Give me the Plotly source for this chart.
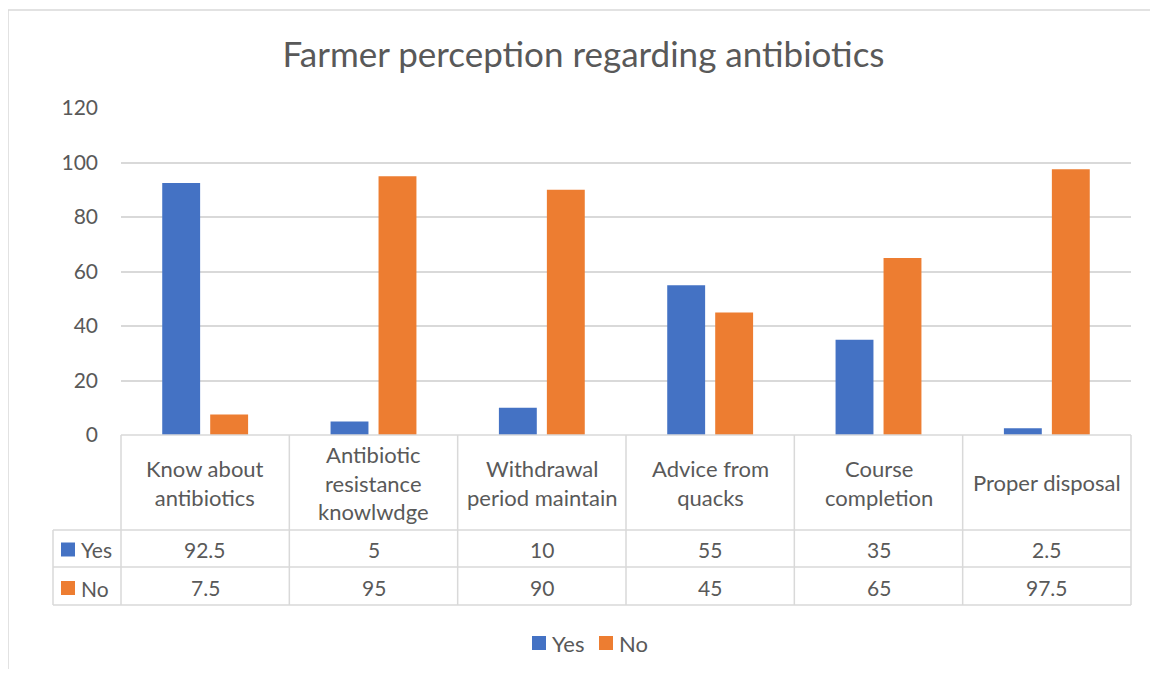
import plotly.graph_objects as go

categories = ["Know about antibiotics", "Antibiotic resistance knowlwdge",
              "Withdrawal period maintain", "Advice from quacks",
              "Course completion", "Proper disposal"]
category_labels = ["Know about<br>antibiotics", "Antibiotic<br>resistance<br>knowlwdge",
                   "Withdrawal<br>period maintain", "Advice from<br>quacks",
                   "Course<br>completion", "Proper disposal"]
series_names = ["Yes", "No"]
yes_values = [92.5, 5, 10, 55, 35, 2.5]
no_values = [7.5, 95, 90, 45, 65, 97.5]
y_ticks = [0, 20, 40, 60, 80, 100, 120]

OFF = 8  # page body margin
W, H = 1158 - 2 * OFF, 677 - 2 * OFF
L, R, T, B = 121 - OFF, 1131 - OFF, 108 - OFF, 435 - OFF
FONT = "Lato"
TXT = "#595959"
GRID = "#d9d9d9"
colors = ["#4472C4", "#ED7D31"]


def px_x(p):
    return (p - OFF - L) / (R - L)


def px_y(p):
    return (B - (p - OFF)) / (B - T)


fig = go.Figure()
for name, vals, col in zip(series_names, [yes_values, no_values], colors):
    fig.add_trace(go.Bar(x=categories, y=vals, name=name, marker_color=col,
                         marker_line_width=0, showlegend=False))

shapes = []
ann = []


def hline(y, x0, x1, w=1.5):
    shapes.append(dict(type="line", xref="paper", yref="paper", x0=px_x(x0), x1=px_x(x1),
                       y0=px_y(y), y1=px_y(y), line=dict(color=GRID, width=w)))


def vline(x, y0, y1, w=1.5):
    shapes.append(dict(type="line", xref="paper", yref="paper", x0=px_x(x), x1=px_x(x),
                       y0=px_y(y0), y1=px_y(y1), line=dict(color=GRID, width=w)))


# chart area border (top and left)
hline(10, 8, 1158, 1.5)
vline(8, 10, 677, 1.5)

# data table grid
hline(435, 121, 1131)
for yy in [530, 567, 605]:
    hline(yy, 53, 1131)
vline(53, 530, 605)
n = len(categories)
for i in range(n + 1):
    xp = 121 + i * (1131 - 121) / n
    vline(xp, 435, 605)

# category headers and values
for i, cat in enumerate(categories):
    ann.append(dict(x=cat, xref="x", y=px_y(482.5), yref="paper", text=category_labels[i],
                    showarrow=False, xanchor="center", yanchor="middle",
                    font=dict(family=FONT, size=22, color=TXT)))
    ann.append(dict(x=cat, xref="x", y=px_y(549), yref="paper", text=f"{yes_values[i]:g}",
                    showarrow=False, xanchor="center", yanchor="middle",
                    font=dict(family=FONT, size=21, color=TXT)))
    ann.append(dict(x=cat, xref="x", y=px_y(587), yref="paper", text=f"{no_values[i]:g}",
                    showarrow=False, xanchor="center", yanchor="middle",
                    font=dict(family=FONT, size=21, color=TXT)))

# legend keys inside table
for name, col, yc in zip(series_names, colors, [549.5, 588]):
    shapes.append(dict(type="rect", xref="paper", yref="paper", x0=px_x(61), x1=px_x(75),
                       y0=px_y(yc - 7), y1=px_y(yc + 7), fillcolor=col, line_width=0))
    ann.append(dict(x=px_x(79), xref="paper", y=px_y(yc), yref="paper", text=name,
                    showarrow=False, xanchor="left", yanchor="middle",
                    font=dict(family=FONT, size=21, color=TXT)))

# bottom legend
for name, col, x0 in zip(series_names, colors, [532, 599]):
    shapes.append(dict(type="rect", xref="paper", yref="paper", x0=px_x(x0), x1=px_x(x0 + 14),
                       y0=px_y(650), y1=px_y(636), fillcolor=col, line_width=0))
    ann.append(dict(x=px_x(x0 + 18), xref="paper", y=px_y(643), yref="paper", text=name,
                    showarrow=False, xanchor="left", yanchor="middle",
                    font=dict(family=FONT, size=22, color=TXT)))

fig.update_layout(
    width=W, height=H,
    margin=dict(l=L, r=W - R, t=T, b=H - B),
    paper_bgcolor="white", plot_bgcolor="white",
    barmode="group", bargap=0.43, bargroupgap=0.21,
    title=dict(text="Farmer perception regarding antibiotics", x=(583.5 - OFF) / W,
               xanchor="center", y=1 - (55 - OFF) / H, yanchor="middle", yref="container",
               font=dict(family=FONT, size=35, color=TXT)),
    xaxis=dict(showticklabels=False, showgrid=False, zeroline=False, showline=False,
               range=[-0.5, n - 0.5]),
    yaxis=dict(range=[0, 120], tickvals=y_ticks, showgrid=True, gridcolor=GRID, gridwidth=1.5,
               zeroline=False, showline=False, ticklabelstandoff=22,
               tickfont=dict(family=FONT, size=21, color=TXT)),
    shapes=shapes, annotations=ann,
)

fig.write_html("out.html")
